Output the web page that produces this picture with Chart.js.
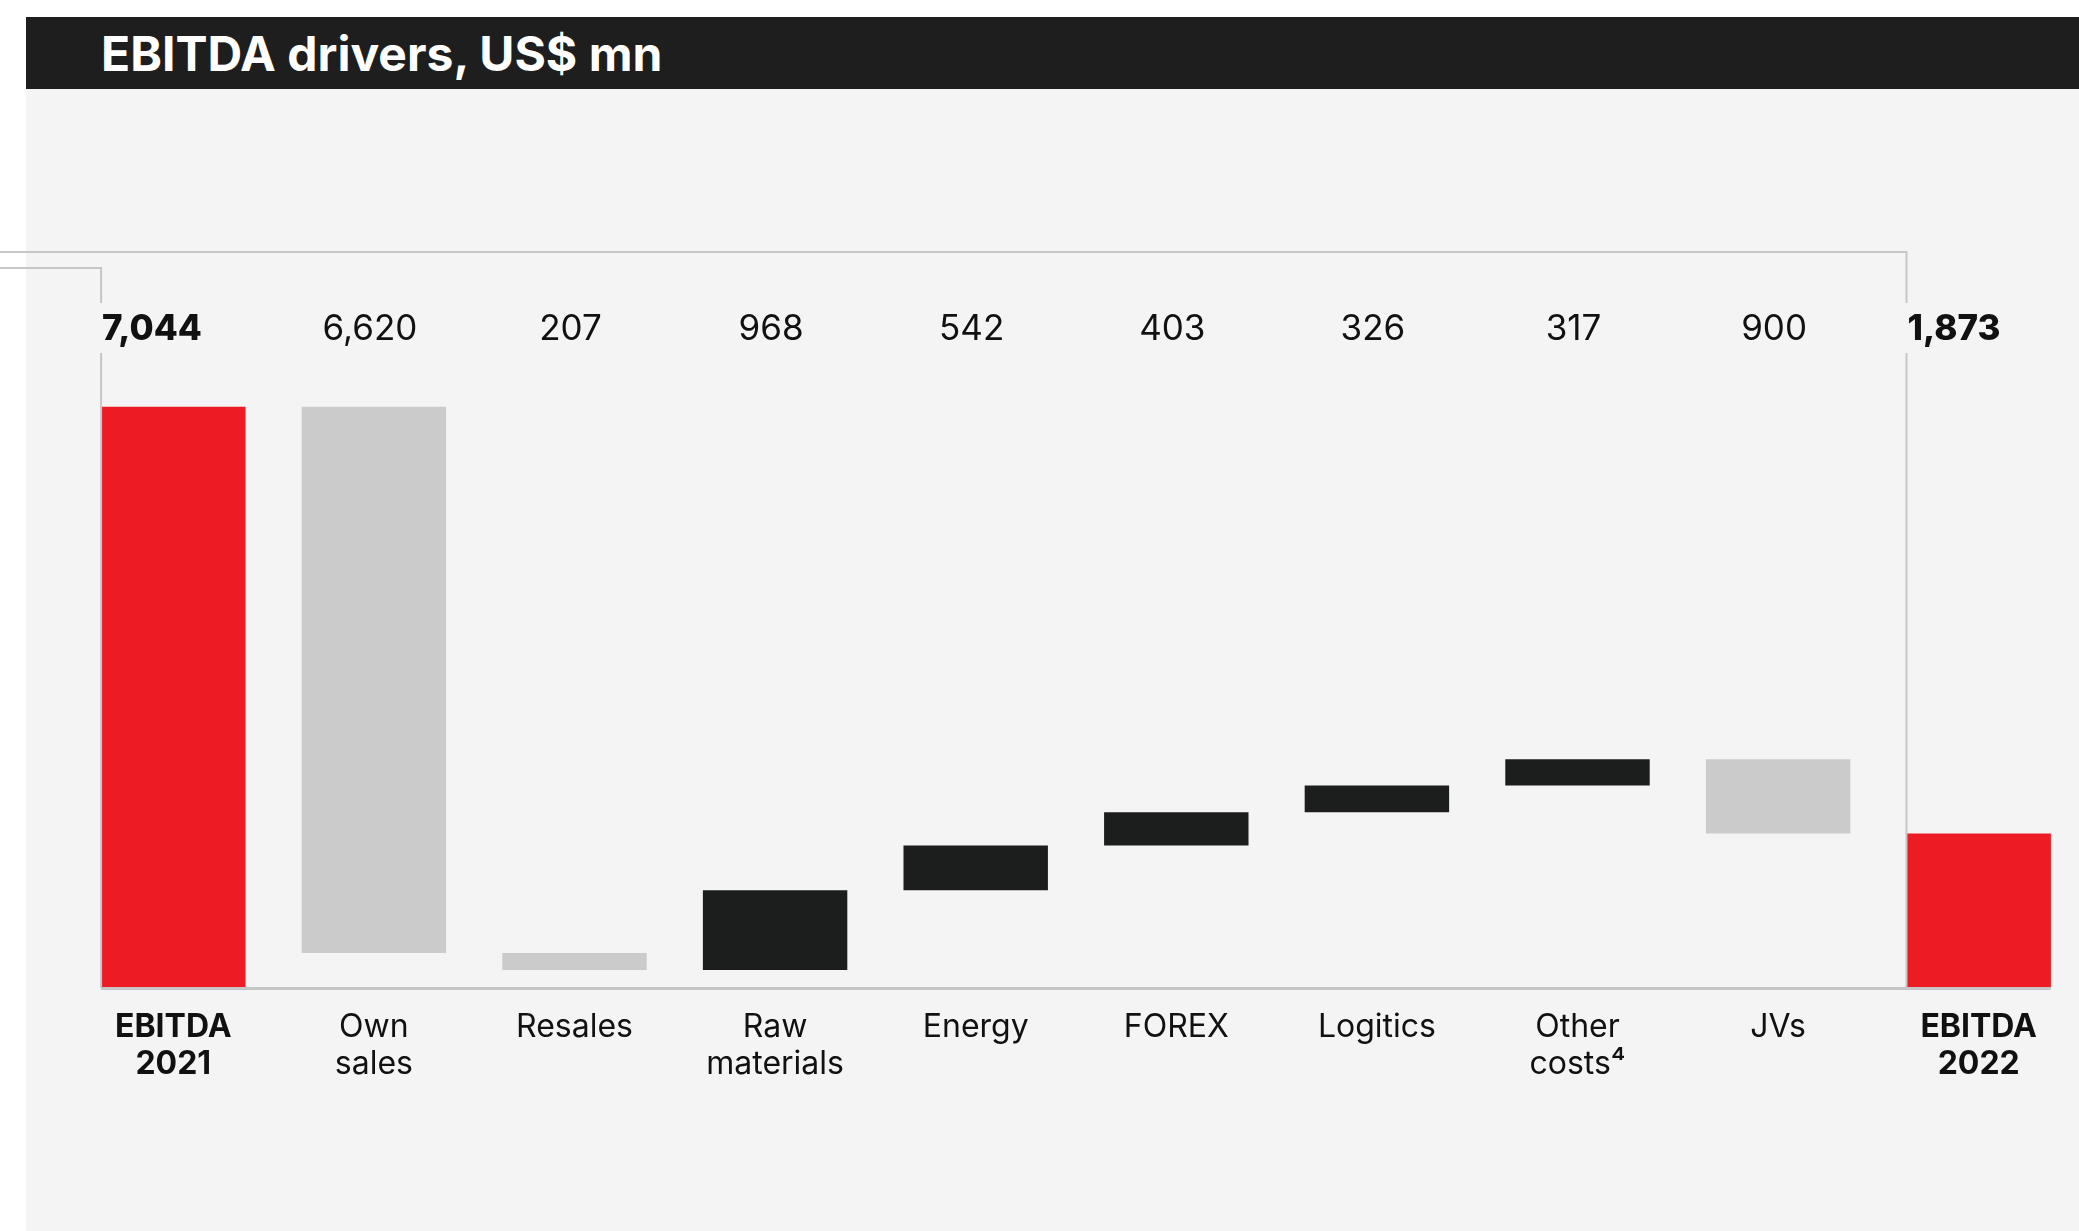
<!DOCTYPE html>
<html>
<head>
<meta charset="utf-8">
<script src="https://cdn.jsdelivr.net/npm/chart.js@4"></script>
<style>
  html, body { margin: 0; padding: 0; background: #fff; overflow: hidden; }
  #panel { position: absolute; left: 26px; top: 89px; width: 2053px; height: 1142px; background: #f4f4f4; }
  #title { position: absolute; left: 26px; top: 17px; width: 2053px; height: 72px; background: #1d1e1d;
           color: #fff; font: 700 48px Inter, sans-serif; line-height: 74px; padding-left: 75px; box-sizing: border-box; }
  #c { position: absolute; left: 0; top: 0; }
</style>
</head>
<body>
<div id="panel"></div>
<div id="title">EBITDA drivers, US$ mn</div>
<canvas id="c" width="2079" height="1231"></canvas>
<script>
// categories and values as shown on the chart
const labels = [["EBITDA", "2021"], ["Own", "sales"], "Resales", ["Raw", "materials"], "Energy",
                "FOREX", "Logitics", ["Other", "costs⁴"], "JVs", ["EBITDA", "2022"]];
const values = [7044, 6620, 207, 968, 542, 403, 326, 317, 900, 1873];
// total = full bar from 0, down = decrease, up = increase
const kinds = ["total", "down", "down", "up", "up", "up", "up", "up", "down", "total"];

const colors = { total: "#ed1c24", down: "#cbcbcb", up: "#1c1e1d" };
const lineColor = "#c6c6c6";

// build floating ranges for the waterfall
var run = 0;
const ranges = values.map(function (v, i) {
  if (kinds[i] == "total") { run = v; return [0, v]; }
  var start = run;
  run = kinds[i] == "down" ? run - v : run + v;
  return [start, run];
});

const labelRow = 329;   // y of the value row
const gapTop = 303, gapBottom = 353;
const topLine = 252, leftLine = 268;

const decor = {
  id: "decor",
  afterDatasetsDraw(chart) {
    const ctx = chart.ctx;
    const bars = chart.getDatasetMeta(0).data;
    const base = chart.scales.y.getPixelForValue(0);
    const first = bars[0], last = bars[bars.length - 1];
    const fLeft = first.x - first.width / 2;
    const lLeft = last.x - last.width / 2;
    const lRight = last.x + last.width / 2;

    ctx.save();
    ctx.strokeStyle = lineColor;
    ctx.lineWidth = 2;
    ctx.beginPath();
    // long bracket to EBITDA 2022
    ctx.moveTo(0, topLine); ctx.lineTo(lLeft, topLine); ctx.lineTo(lLeft, gapTop);
    ctx.moveTo(lLeft, gapBottom); ctx.lineTo(lLeft, base);
    // short bracket to EBITDA 2021
    ctx.moveTo(0, leftLine); ctx.lineTo(fLeft, leftLine); ctx.lineTo(fLeft, gapTop);
    ctx.moveTo(fLeft, gapBottom); ctx.lineTo(fLeft, base);
    ctx.stroke();
    // baseline
    ctx.lineWidth = 3;
    ctx.beginPath();
    ctx.moveTo(fLeft, base + 0.5); ctx.lineTo(lRight, base + 0.5);
    ctx.stroke();

    // value row
    ctx.fillStyle = "#111";
    ctx.textBaseline = "middle";
    bars.forEach(function (b, i) {
      var txt = values[i].toLocaleString("en-US");
      if (kinds[i] == "total") {
        ctx.font = "800 35px Inter, sans-serif";
        ctx.textAlign = "left";
        ctx.fillText(txt, b.x - b.width / 2 + 1, labelRow);
      } else {
        ctx.font = "400 35px Inter, sans-serif";
        ctx.textAlign = "center";
        ctx.fillText(txt, b.x - 4, labelRow);
      }
    });
    ctx.restore();
  }
};

new Chart(document.getElementById("c"), {
  type: "bar",
  data: {
    labels: labels,
    datasets: [{
      data: ranges,
      backgroundColor: kinds.map(function (k) { return colors[k]; }),
      borderWidth: 0,
      barPercentage: 0.72,
      categoryPercentage: 1
    }]
  },
  options: {
    responsive: false,
    animation: false,
    devicePixelRatio: 1,
    events: [],
    layout: { padding: { left: 73, right: 0, top: 328, bottom: 0 } },
    plugins: {
      legend: { display: false },
      tooltip: { enabled: false }
    },
    scales: {
      x: {
        grid: { display: false },
        border: { display: false },
        afterFit: function (s) { s.height = 243; },
        ticks: {
          padding: 13,
          maxRotation: 0,
          autoSkip: false,
          color: "#111",
          font: function (c) {
            var bold = c.index === 0 || c.index === labels.length - 1;
            return { family: "Inter, sans-serif", size: 32, weight: bold ? "bold" : "normal", lineHeight: 1.16 };
          }
        }
      },
      y: {
        display: false,
        min: 0,
        max: 8000
      }
    }
  },
  plugins: [decor]
});
</script>
</body>
</html>
